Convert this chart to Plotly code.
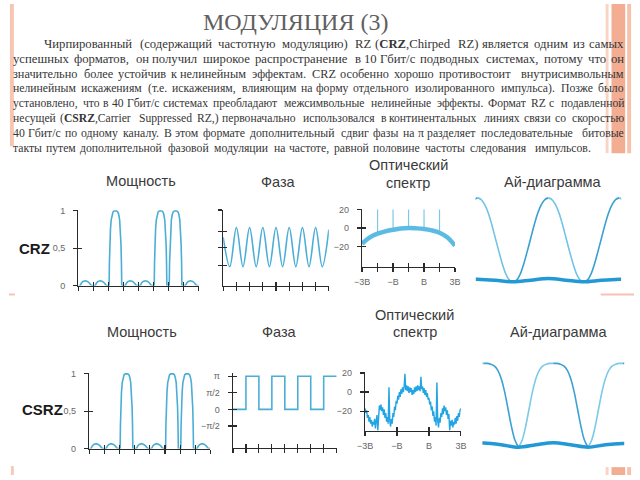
import plotly.graph_objects as go

W, H = 640, 480

# ---------------- texts ----------------
TITLE = "МОДУЛЯЦИЯ (3)"
PARAGRAPH = [
    "Чирпированный (содержащий частотную модуляцию) RZ (<b>CRZ</b>,Chirped RZ) является одним из самых",
    "успешных форматов, он получил широкое распространение в 10 Гбит/с подводных системах, потому что он",
    "значительно более устойчив к нелинейным эффектам. CRZ особенно хорошо противостоит внутрисимвольным",
    "нелинейным искажениям (т.е. искажениям, влияющим на форму отдельного изолированного импульса). Позже было",
    "установлено, что в 40 Гбит/с системах преобладают межсимвольные нелинейные эффекты. Формат RZ с подавленной",
    "несущей (<b>CSRZ</b>,Carrier Suppressed RZ,) первоначально использовался в континентальных линиях связи со скоростью",
    "40 Гбит/с по одному каналу. В этом формате дополнительный сдвиг фазы на π разделяет последовательные битовые",
    "такты путем дополнительной фазовой модуляции на частоте, равной половине частоты следования импульсов.",
]
ROW_NAMES = ["CRZ", "CSRZ"]
PANEL_TITLES = ["Мощность", "Фаза", "Оптический", "спектр", "Ай-диаграмма"]
POWER_TICKVALS = [0, 0.5, 1]
POWER_TICKTEXT = ["0", "0,5", "1"]
PHASE_TICKVALS = [-0.5, 0, 0.5, 1]
PHASE_TICKTEXT = ["−π/2", "0", "π/2", "π"]
SPEC_Y_TICKVALS = [-20, 0, 20]
SPEC_Y_TICKTEXT = ["−20", "0", "20"]
SPEC_X_TICKVALS = [-3, -1, 1, 3]
SPEC_X_TICKTEXT = ["−3B", "−B", "B", "3B"]

# ---------------- data ----------------
# power: bit pattern and shapes of a "1" slot and a "0" slot (slot fraction, normalised power)
POWER_BITS = [0, 0, 1, 0, 0, 1, 1, 0]
ONE_T = [0.0, 0.04, 0.06, 0.09, 0.13, 0.18, 0.24, 0.30, 0.38, 0.46, 0.54, 0.62, 0.68, 0.74, 0.79, 0.83, 0.86, 0.88, 1.0]
ONE_P = [0.0, 0.0, 0.30, 0.55, 0.75, 0.88, 0.95, 0.985, 0.998, 1.0, 0.998, 0.985, 0.95, 0.88, 0.75, 0.55, 0.30, 0.0, 0.0]
ZERO_T = [0.0, 0.12, 0.2, 0.3, 0.45, 0.6, 0.72, 0.8, 0.86, 1.0]
ZERO_P = [0.0, 0.0, 0.035, 0.055, 0.065, 0.055, 0.035, 0.015, 0.0, 0.0]

# CRZ phase (bit units, normalised) – extremes
PHASE_CRZ_T = [0, 0.5, 1, 1.5, 2, 2.5, 3, 3.5, 4, 4.5, 5, 5.5, 6, 6.5, 7, 7.5, 8]
PHASE_CRZ_V = [0.64, 0.25, 0.77, 0.25, 0.77, 0.25, 0.77, 0.25, 0.77, 0.25, 0.77, 0.25, 0.77, 0.25, 0.77, 0.25, 0.74]

# CSRZ phase levels per bit (units of pi)
PHASE_CSRZ_LEVELS = [0, 1, 0, 1, 0, 1, 0, 1]

# CRZ optical spectrum: envelope (dB) and discrete lines
SPEC_CRZ_X = [-3, -2.5, -2, -1.5, -1, -0.5, 0, 0.5, 1, 1.5, 2, 2.5, 3]
SPEC_CRZ_Y = [-17, -10, -6, -3.5, -1.8, -0.5, 0, -0.3, -1, -2.5, -5, -10, -19]
LINES_CRZ_X = [-2, -1, 0, 1, 2]
LINES_CRZ_BASE = [-6, -1.8, 0, -1, -5]
LINES_CRZ_TOP = [20, 20, 20, 20, 20]

# CSRZ optical spectrum (dB), sampled every 0.05 B from -3B to 3B
SPEC_CSRZ_Y = [
    -17, -22, -19, -27, -24, -31, -26, -33, -29, -36, -31, -34, -28, -38, -30, -24, -40, -21, -14, -19,
    -13, -20, -16, -24, -18, -27, -22, -31, -26, -33, 5, -30, -36, -28, -33, -22, -26, -15, -19, -9,
    -12, -4, -8, 0, -5, 3, -2, 5, 0, 6, 19, 2, 7, 1, 6, -1, 5, 0, 4, -3,
    2, -2, 5, 0, 6, 1, 7, 2, 6, 1, 16, 3, 6, -1, 4, -3, 2, -5, -1, -8,
    -6, -13, -10, -19, -15, -25, -20, -31, -26, -35, 10, -30, -37, -27, -32, -22, -26, -17, -23, -14,
    -20, -16, -24, -19, -28, -23, -40, -30, -35, -29, -37, -31, -34, -27, -33, -25, -30, -22, -26, -19,
    -17,
]
SPEC_CSRZ_X = [round(-3 + 0.05 * i, 2) for i in range(len(SPEC_CSRZ_Y))]

# eye diagrams: one-sided pulse profile vs offset from bit centre (bits)
EYE_D = [0, 0.05, 0.10, 0.15, 0.20, 0.25, 0.30, 0.35, 0.40, 0.45, 0.50]
EYE_CRZ = [1.0, 0.98, 0.92, 0.82, 0.68, 0.52, 0.36, 0.21, 0.09, 0.02, 0.0]
EYE_CSRZ = [1.0, 1.0, 0.99, 0.97, 0.92, 0.82, 0.66, 0.45, 0.24, 0.08, 0.0]
EYE_CENTERS = [0, 1, 2]
EYE_ZERO_T = [-0.03, 0.0, 0.25, 0.5, 0.75, 1.0, 1.25, 1.5, 1.75, 2.0, 2.03]
EYE_ZERO_CRZ = [0.03, 0.03, 0.018, 0.0, 0.02, 0.04, 0.02, 0.0, 0.018, 0.03, 0.03]
EYE_ZERO_CSRZ = [0.05, 0.05, 0.03, 0.0, 0.03, 0.055, 0.03, 0.0, 0.03, 0.045, 0.045]

# ---------------- geometry (pixels) ----------------
PANELS = {
    1: dict(x=(72, 195), y=(210, 287)),    # CRZ power
    2: dict(x=(220, 328), y=(210, 287)),   # CRZ phase
    3: dict(x=(362, 457), y=(209, 268)),   # CRZ spectrum
    4: dict(x=(478, 627), y=(195, 290)),   # CRZ eye
    5: dict(x=(83, 207), y=(376, 453)),    # CSRZ power
    6: dict(x=(230, 336), y=(376, 452)),   # CSRZ phase
    7: dict(x=(365, 463), y=(375, 435)),   # CSRZ spectrum
    8: dict(x=(485, 630), y=(362, 456)),   # CSRZ eye
}

AX = "#2a2a2a"
BLUE = "#4aaed6"
TICKFONT = dict(family="Liberation Sans, Arial, sans-serif", size=9, color="#666666")


def xid(k):
    return "x" if k == 1 else f"x{k}"


def yid(k):
    return "y" if k == 1 else f"y{k}"


def dom_x(k):
    a, b = PANELS[k]["x"]
    return [a / W, b / W]


def dom_y(k):
    t, b = PANELS[k]["y"]
    return [1 - b / H, 1 - t / H]


fig = go.Figure()
layout_axes = {}
overlay_n = 9


def add_axes(k, xrange, yrange, xt=None, xtt=None, yt=None, ytt=None, visible=True):
    global overlay_n
    xkey = "xaxis" if k == 1 else f"xaxis{k}"
    ykey = "yaxis" if k == 1 else f"yaxis{k}"
    if not visible:
        layout_axes[xkey] = dict(domain=dom_x(k), range=xrange, anchor=yid(k), visible=False, fixedrange=True)
        layout_axes[ykey] = dict(domain=dom_y(k), range=yrange, anchor=xid(k), visible=False, fixedrange=True)
        return
    common = dict(showgrid=False, zeroline=False, showline=True, linecolor=AX, linewidth=1.3,
                  ticks="outside", ticklen=4, tickwidth=1.2, tickcolor=AX, fixedrange=True)
    xa = dict(domain=dom_x(k), range=xrange, anchor=yid(k), tickvals=xt, **common)
    if xtt is None:
        xa["showticklabels"] = False
    else:
        xa.update(ticktext=xtt, tickfont=TICKFONT, ticklabelstandoff=2)
    ya = dict(domain=dom_y(k), range=yrange, anchor=xid(k), tickvals=yt, **common)
    if ytt is None:
        ya["showticklabels"] = False
    else:
        ya.update(ticktext=ytt, tickfont=TICKFONT, ticklabelstandoff=6)
    layout_axes[xkey] = xa
    layout_axes[ykey] = ya
    # overlay axes carrying inward ticks (crossing tick marks)
    n = overlay_n
    overlay_n += 1
    ov = dict(showgrid=False, zeroline=False, showline=False, showticklabels=False,
              ticks="inside", ticklen=4, tickwidth=1.2, tickcolor=AX, fixedrange=True)
    layout_axes[f"xaxis{n}"] = dict(overlaying=xid(k), range=xrange, anchor=f"y{n}", tickvals=xt, **ov)
    layout_axes[f"yaxis{n}"] = dict(overlaying=yid(k), range=yrange, anchor=f"x{n}", tickvals=yt, **ov)
    fig.add_trace(go.Scatter(x=[], y=[], xaxis=f"x{n}", yaxis=f"y{n}", showlegend=False, hoverinfo="skip"))


def line(k, x, y, color, width, shape="linear"):
    fig.add_trace(go.Scatter(x=x, y=y, mode="lines", xaxis=xid(k), yaxis=yid(k),
                             line=dict(color=color, width=width, shape=shape),
                             showlegend=False, hoverinfo="skip"))


# ---- power traces ----
def power_series():
    xs, ys = [], []
    for i, b in enumerate(POWER_BITS):
        tt, pp = (ONE_T, ONE_P) if b else (ZERO_T, ZERO_P)
        for t, p in zip(tt, pp):
            xs.append(i + t)
            ys.append(p)
    return xs, ys


px_, py_ = power_series()
for k in (1, 5):
    add_axes(k, [0, 8], [0, 1.01], xt=list(range(9)), yt=POWER_TICKVALS, ytt=POWER_TICKTEXT)
    line(k, px_, py_, BLUE, 1.6)

# ---- CRZ phase ----
add_axes(2, [0, 8], [0, 1], xt=list(range(9)), yt=[0.27, 0.5, 0.72, 1.0])
line(2, PHASE_CRZ_T, PHASE_CRZ_V, BLUE, 1.6, "spline")

# ---- CSRZ phase ----
add_axes(6, [0, 8], [-1.15, 1.1], xt=list(range(9)), yt=PHASE_TICKVALS, ytt=PHASE_TICKTEXT)
line(6, list(range(9)), PHASE_CSRZ_LEVELS + [PHASE_CSRZ_LEVELS[-1]], BLUE, 1.6, "hv")

# ---- CRZ spectrum ----
add_axes(3, [-3, 3], [-42, 20.5], xt=[-3, -2, -1, 0, 1, 2, 3],
         xtt=["−3B", "", "−B", "", "B", "", "3B"], yt=SPEC_Y_TICKVALS, ytt=SPEC_Y_TICKTEXT)
lx, ly = [], []
for x0, b0, t0 in zip(LINES_CRZ_X, LINES_CRZ_BASE, LINES_CRZ_TOP):
    lx += [x0, x0, None]
    ly += [b0, t0, None]
line(3, lx, ly, "#7cc8e6", 1.2)
line(3, SPEC_CRZ_X, SPEC_CRZ_Y, "#5cbbe3", 4.5, "spline")

# ---- CSRZ spectrum ----
add_axes(7, [-3, 3], [-40.5, 21], xt=SPEC_X_TICKVALS, xtt=SPEC_X_TICKTEXT,
         yt=SPEC_Y_TICKVALS, ytt=SPEC_Y_TICKTEXT)
line(7, SPEC_CSRZ_X, SPEC_CSRZ_Y, "#22a5e2", 1.4)


# ---- eye diagrams ----
def eye(k, prof, zero, rise_c, fall_c):
    rx, ry, fx, fy = [], [], [], []
    for c in EYE_CENTERS:
        for d, v in zip(EYE_D, prof):
            fx.append(c + d)
            fy.append(v)
        fx.append(None)
        fy.append(None)
        for d, v in zip(EYE_D, prof):
            rx.append(c - d)
            ry.append(v)
        rx.append(None)
        ry.append(None)
    line(k, rx, ry, rise_c, 1.6, "spline")
    line(k, fx, fy, fall_c, 1.6, "spline")
    line(k, EYE_ZERO_T, zero, "#2298d4", 3.5, "spline")


add_axes(4, [-0.03, 2.03], [-0.08, 1.03], visible=False)
eye(4, EYE_CRZ, EYE_ZERO_CRZ, "#3a9fd3", "#72c4e5")
add_axes(8, [-0.02, 2.02], [-0.05, 1.05], visible=False)
eye(8, EYE_CSRZ, EYE_ZERO_CSRZ, "#7ccae8", "#3ca1d4")

# ---------------- annotations ----------------
ann = []


def A(text, x, y, size, color, family, xanchor="center", yanchor="middle", **kw):
    ann.append(dict(text=text, x=x / W, y=1 - y / H, xref="paper", yref="paper",
                    xanchor=xanchor, yanchor=yanchor, showarrow=False, borderpad=0, borderwidth=0,
                    font=dict(size=size, color=color, family=family), **kw))


SERIF = "Liberation Serif, Times New Roman, serif"
SANS = "Liberation Sans, Arial, Helvetica, sans-serif"

A(TITLE, 294, 18, 24, "#606060", SERIF)

# width table (Times metrics, 1/1000 em) used to justify the paragraph
_cw = {}
for s_, w_ in [
    ("абвгдеёжзийклмнопрстуфхцчшщъыьэюя",
     [444, 509, 472, 410, 509, 444, 444, 691, 395, 535, 535, 486, 499, 633, 535, 500, 535, 500, 444, 437,
      500, 648, 500, 535, 503, 770, 770, 517, 672, 456, 429, 747, 460]),
    ("АБВГДЕЁЖЗИЙКЛМНОПРСТУФХЦЧШЩЪЫЬЭЮЯ",
     [722, 574, 667, 579, 682, 611, 611, 896, 501, 722, 722, 667, 678, 889, 722, 722, 722, 556, 667, 611,
      715, 790, 722, 722, 650, 1019, 1029, 706, 885, 570, 668, 1018, 673]),
    ("abcdefghijklmnopqrstuvwxyz",
     [444, 500, 444, 500, 444, 333, 500, 500, 278, 278, 500, 278, 778, 500, 500, 500, 500, 333, 389, 278,
      500, 500, 722, 500, 500, 444]),
    ("ABCDEFGHIJKLMNOPQRSTUVWXYZ",
     [722, 667, 667, 722, 611, 556, 722, 722, 333, 389, 722, 611, 889, 722, 722, 556, 722, 667, 556, 611,
      722, 722, 944, 722, 722, 611]),
]:
    for ch, w in zip(s_, w_):
        _cw[ch] = w
for ch in "0123456789":
    _cw[ch] = 500
_cw.update({" ": 250, ".": 250, ",": 250, "(": 333, ")": 333, "/": 278, "-": 333, "π": 549, ":": 278})


def wwidth(word, size):
    plain = word.replace("<b>", "").replace("</b>", "")
    f = 1.05 if "<b>" in word else 1.0
    return sum(_cw.get(c, 500) for c in plain) / 1000.0 * size * f * 1.07


LINE_Y = [41, 56.2, 71.4, 86.6, 101.8, 117, 132.2, 147.2]
LINE_X0 = [37, 5, 5, 5, 5, 5, 5, 5]
LINE_X1 = [630, 630, 630, 630, 630, 630, 630, 596]
BASE = 13.0
MIN_GAP = 0.24
for text, yy, x0, x1 in zip(PARAGRAPH, LINE_Y, LINE_X0, LINE_X1):
    words = text.split(" ")
    size = BASE
    avail = x1 - x0
    nat = sum(wwidth(w, size) for w in words) + (len(words) - 1) * MIN_GAP * size
    if nat > avail:
        size = size * avail / nat
    ws = [wwidth(w, size) for w in words]
    gap = (avail - sum(ws)) / (len(words) - 1)
    xx = x0
    for i, (w, wd) in enumerate(zip(words, ws)):
        if i == len(words) - 1:
            A(w, x1, yy, size, "#363636", SERIF, xanchor="right")
        else:
            A(w, xx, yy, size, "#363636", SERIF, xanchor="left")
        xx += wd + gap

# panel titles
TITLE_POS = [
    [(136, 180), (277, 181), (409, 164.5), (409, 182), (557, 181)],
    [(137, 334), (278, 334), (416, 316.5), (416, 334), (563, 334)],
]
for r in range(2):
    for j, t in enumerate(PANEL_TITLES):
        x, y = TITLE_POS[r][j]
        A(t, x, y, 14.5, "#3a3a3a", SANS)

A("<b>" + ROW_NAMES[0] + "</b>", 27, 249, 15, "#1a1a1a", SANS)
A("<b>" + ROW_NAMES[1] + "</b>", 35, 413, 15, "#1a1a1a", SANS)

# decorative slide strips
shapes = []


def R(x0, y0, x1, y1, color, op=1.0):
    shapes.append(dict(type="rect", xref="paper", yref="paper", x0=x0 / W, x1=x1 / W,
                       y0=1 - y1 / H, y1=1 - y0 / H, fillcolor=color, line=dict(width=0),
                       layer="below", opacity=op))


R(2, 0, 6, 145, "#f4bca6", 0.85)
R(611, 0, 614, 152, "#f9d3c3")
R(617, 0, 631, 152, "#f2ad92")
R(633, 0, 637, 152, "#f6c2ac")
R(611, 472, 614, 480, "#f9d3c3")
R(617, 472, 631, 480, "#f2ad92")
R(633, 472, 637, 480, "#f6c2ac")
R(3, 471, 6, 480, "#f4bca6", 0.8)
R(1, 295, 7, 297, "#f2a894", 0.7)
R(606, 295, 640, 297, "#f2a894", 0.7)

fig.update_layout(
    width=W, height=H, margin=dict(l=0, r=0, t=0, b=0),
    paper_bgcolor="white", plot_bgcolor="rgba(0,0,0,0)",
    showlegend=False, annotations=ann, shapes=shapes, **layout_axes,
)

fig.write_html(
    "out.html",
    config={"displayModeBar": False, "staticPlot": True},
    post_script="document.body.style.margin='0';document.body.style.overflow='hidden';",
)
